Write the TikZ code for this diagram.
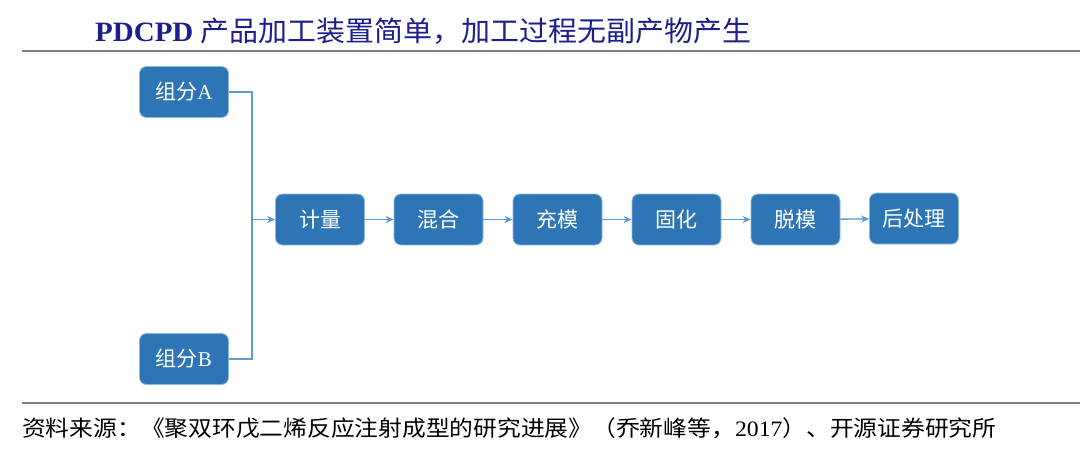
\documentclass[tikz,border=0pt]{standalone}
\usepackage{fontspec}
\setmainfont{Liberation Serif}
\newfontfamily\cjk{Noto Sans CJK SC}
\usetikzlibrary{arrows.meta}
\definecolor{boxblue}{RGB}{46,117,182}
\definecolor{lineblue}{RGB}{91,155,213}
\definecolor{titleblue}{RGB}{30,30,140}
\definecolor{rulegray}{RGB}{128,128,128}
\begin{document}
\begin{tikzpicture}[x=1pt,y=-1pt,
  stepbox/.style={draw=lineblue!70!white, line width=0.8pt, fill=boxblue,
    rounded corners=7pt, minimum width=89pt, minimum height=51pt, inner sep=0pt,
    text=white, font=\cjk\fontsize{21}{21}\selectfont},
  link/.style={draw=lineblue, line width=1.4pt},
  conn/.style={link, -{Stealth[length=8pt,width=7pt]}},
  rulestyle/.style={draw=rulegray, line width=2pt}]
\useasboundingbox (0,0) rectangle (1080,450);
% title
\node[anchor=west, text=titleblue, inner sep=0pt, xscale=1.035] (title) at (95,31)
  {\fontsize{28}{28}\selectfont\textbf{PDCPD} \cjk 产品加工装置简单，加工过程无副产物产生};
\draw[rulestyle] (22,51) -- (1080,51);
\draw[rulestyle] (22,403) -- (1080,403);
% boxes
\node[stepbox] (a) at (184,92) {组分\rmfamily A};
\node[stepbox] (b) at (184,359) {组分\rmfamily B};
\node[stepbox] (s1) at (320,219.5) {计量};
\node[stepbox] (s2) at (438.5,219.5) {混合};
\node[stepbox] (s3) at (557.5,219.5) {充模};
\node[stepbox] (s4) at (676.5,219.5) {固化};
\node[stepbox] (s5) at (795.5,219.5) {脱模};
\node[stepbox] (s6) at (914,218.5) {后处理};
% connectors
\coordinate (j) at (252,219.5);
\draw[link] (a.east) -| (j);
\draw[link] (b.east) -| (j);
\draw[conn] (j) -- (s1.west);
\draw[conn] (s1) -- (s2);
\draw[conn] (s2) -- (s3);
\draw[conn] (s3) -- (s4);
\draw[conn] (s4) -- (s5);
\draw[conn] (s5) -- (s6);
% source
\node[anchor=west, inner sep=0pt, xscale=1.08] (src) at (22,428)
  {\cjk\fontsize{22}{22}\selectfont 资料来源：《聚双环戊二烯反应注射成型的研究进展》（乔新峰等，{\rmfamily 2017}）、开源证券研究所};
\end{tikzpicture}
\end{document}
